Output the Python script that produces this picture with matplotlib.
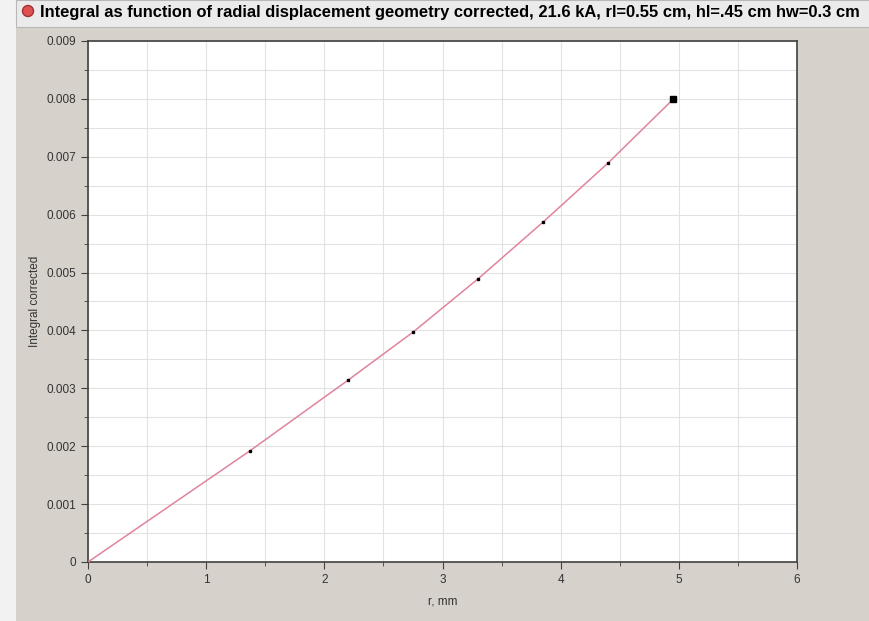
import matplotlib
matplotlib.use("Agg")
import matplotlib.pyplot as plt
from matplotlib.patches import Rectangle, Ellipse
from matplotlib.ticker import MultipleLocator, FormatStrFormatter

plt.rcParams['font.family'] = ['Liberation Sans', 'DejaVu Sans']

r_mm = [0.0, 1.37, 2.2, 2.75, 3.3, 3.85, 4.4, 4.95]
integral = [0.0, 0.00192, 0.00314, 0.00397, 0.00489, 0.00587, 0.00689, 0.00799]
title = "Integral as function of radial displacement geometry corrected, 21.6 kA, rl=0.55 cm, hl=.45 cm hw=0.3 cm"
xlabel = "r, mm"
ylabel = "Integral corrected"

bg = "#d6d1cb"
fig = plt.figure(figsize=(8.7, 6.21), dpi=100, facecolor=bg)

# left patterned strip and title bar
fig.patches.append(Rectangle((0, 0), 16/870, 1, transform=fig.transFigure, facecolor="#f2f2f2", edgecolor="none", zorder=0))
fig.patches.append(Rectangle((16/870, 1-27/621), 1, 27/621, transform=fig.transFigure, facecolor="#ebebeb", edgecolor="#b8b8b8", lw=0.8, zorder=0))
fig.patches.append(Ellipse((28/870, 1-11/621), 11/870, 11/621, transform=fig.transFigure, facecolor="#e05050", edgecolor="#a03030", zorder=1))
fig.text(40/870, 1-12/621, title, ha="left", va="center", fontsize=11.9, fontweight="bold",
         color="black")

ax = fig.add_axes([88/870, 59/621, (797-88)/870, (562-41)/621])
ax.set_facecolor("white")
ax.plot(r_mm, integral, color="#e0849a", lw=1.1, zorder=3)
ax.plot(r_mm[1:-1], integral[1:-1], ls="none", marker="s", ms=2, color="black", zorder=4)
ax.plot(r_mm[-1:], integral[-1:], ls="none", marker="s", ms=4, color="black", zorder=4)

ax.set_xlim(0, 6)
ax.set_ylim(0, 0.009)
ax.xaxis.set_major_locator(MultipleLocator(1))
ax.xaxis.set_minor_locator(MultipleLocator(0.5))
ax.yaxis.set_major_locator(MultipleLocator(0.001))
ax.yaxis.set_minor_locator(MultipleLocator(0.0005))
ax.yaxis.set_major_formatter(FormatStrFormatter("%g"))
ax.xaxis.set_major_formatter(FormatStrFormatter("%g"))
ax.grid(True, which="both", color="#e2e2e2", lw=0.8, zorder=0)
ax.set_axisbelow(True)
for s in ax.spines.values():
    s.set_color("#404040")
    s.set_linewidth(1.2)
ax.tick_params(which="both", direction="out", colors="#404040", labelcolor="#333333", labelsize=8.5)
ax.tick_params(which="major", length=5)
ax.tick_params(which="minor", length=3)
ax.set_xlabel(xlabel, fontsize=8.5, color="#333333", labelpad=7)
ax.set_ylabel(ylabel, fontsize=8.5, color="#333333", labelpad=4)

fig.savefig("out.png", dpi=100, facecolor=bg)
